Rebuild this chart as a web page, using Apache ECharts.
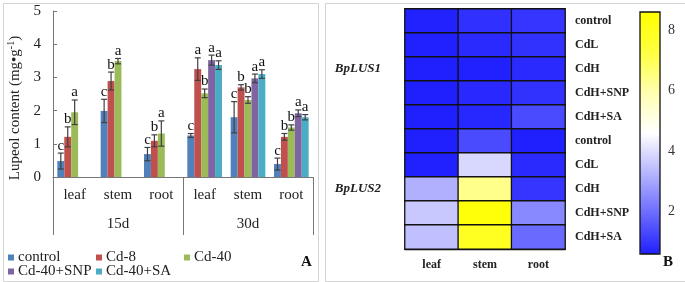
<!DOCTYPE html>
<html>
<head>
<meta charset="utf-8">
<script src="https://cdn.jsdelivr.net/npm/echarts@6/dist/echarts.min.js"></script>
<style>
  html, body { margin: 0; padding: 0; background: #fff; }
  #main { width: 685px; height: 282px; }
</style>
</head>
<body>
<div id="main"></div>
<script>
const serif = '"Liberation Serif", "Times New Roman", serif';

// panel A: lupeol content
const tissueLabels = ['leaf', 'stem', 'root', 'leaf', 'stem', 'root'];
const periods = ['15d', '30d'];
const groupNames = ['control', 'Cd-8', 'Cd-40', 'Cd-40+SNP', 'Cd-40+SA'];
const groupColors = ['#4F81BD', '#C0504D', '#9BBB59', '#8064A2', '#4BACC6'];

const control    = [0.48, 1.99, 0.69, 1.25, 1.80, 0.39];
const controlErr = [0.24, 0.35, 0.20, 0.06, 0.47, 0.18];
const controlSig = ['c', 'c', 'c', 'c', 'c', 'c'];

const cd8    = [1.21, 2.89, 1.09, 3.25, 2.70, 1.21];
const cd8Err = [0.30, 0.27, 0.18, 0.34, 0.08, 0.10];
const cd8Sig = ['b', 'b', 'b', 'a', 'b', 'b'];

const cd40    = [1.95, 3.49, 1.31, 2.52, 2.32, 1.49];
const cd40Err = [0.37, 0.08, 0.38, 0.13, 0.10, 0.08];
const cd40Sig = ['a', 'a', 'a', 'b', 'b', 'b'];

const snp    = [null, null, null, 3.52, 2.97, 1.92];
const snpErr = [0, 0, 0, 0.15, 0.13, 0.10];
const snpSig = ['', '', '', 'a', 'a', 'a'];

const sa    = [null, null, null, 3.37, 3.10, 1.80];
const saErr = [0, 0, 0, 0.13, 0.13, 0.08];
const saSig = ['', '', '', 'a', 'a', 'a'];

const yTicks = [0, 5, 1]; // min, max, step

// panel B: expression heatmap
const tissues = ['leaf', 'stem', 'root'];
const genes = ['BpLUS1', 'BpLUS2'];
const treatments = ['control', 'CdL', 'CdH', 'CdH+SNP', 'CdH+SA',
                    'control', 'CdL', 'CdH', 'CdH+SNP', 'CdH+SA'];
const leafExpr = [0.64, 0.62, 0.60, 0.60, 0.60, 0.60, 0.62, 3.18, 3.61, 3.47];
const stemExpr = [0.89, 0.78, 0.62, 0.75, 0.72, 1.35, 3.90, 6.40, 8.40, 7.90];
const rootExpr = [0.98, 0.92, 0.78, 0.92, 1.35, 0.60, 0.78, 0.98, 2.46, 1.93];
const scaleTicks = [2, 4, 6, 8];
const scaleRange = [0.6, 8.6];

const values = [control, cd8, cd40, snp, sa];
const errs = [controlErr, cd8Err, cd40Err, snpErr, saErr];
const sigs = [controlSig, cd8Sig, cd40Sig, snpSig, saSig];

const heatData = [];
[leafExpr, stemExpr, rootExpr].forEach((col, xi) => {
  col.forEach((v, yi) => heatData.push([xi, yi, v]));
});

function errorBars(k) {
  return function (params, api) {
    const i = api.value(0);
    const v = api.value(1);
    const e = api.value(2);
    const band = api.size([1, 0])[0];
    const bw = band * 0.8 / groupNames.length;
    const x = api.coord([i, 0])[0] - band * 0.4 + bw * (k + 0.5);
    const top = api.coord([i, v + e])[1];
    const bot = api.coord([i, v - e])[1];
    const st = { stroke: '#404040', lineWidth: 1.2 };
    return {
      type: 'group',
      children: [
        { type: 'line', shape: { x1: x, y1: top, x2: x, y2: bot }, style: st },
        { type: 'line', shape: { x1: x - 3, y1: top, x2: x + 3, y2: top }, style: st },
        { type: 'line', shape: { x1: x - 3, y1: bot, x2: x + 3, y2: bot }, style: st },
        {
          type: 'text', x: x, y: top,
          style: {
            text: sigs[k][i], fill: '#111', font: '15px ' + serif,
            align: 'center', verticalAlign: 'bottom'
          }
        }
      ]
    };
  };
}

const series = [];
groupNames.forEach((name, k) => {
  series.push({
    name: name, type: 'bar', xAxisIndex: 0, yAxisIndex: 0,
    data: values[k], barGap: '0%', barCategoryGap: '20%',
    itemStyle: { color: groupColors[k] }, silent: true
  });
});
groupNames.forEach((name, k) => {
  const d = [];
  values[k].forEach((v, i) => { if (v != null) d.push([i, v, errs[k][i]]); });
  series.push({
    type: 'custom', xAxisIndex: 0, yAxisIndex: 0, z: 5, silent: true,
    renderItem: errorBars(k), data: d
  });
});
series.push({
  type: 'heatmap', xAxisIndex: 2, yAxisIndex: 1, data: heatData,
  itemStyle: { borderColor: '#111', borderWidth: 1.3 },
  emphasis: { disabled: true }, silent: true
});

const legendPos = [[8, 250], [96, 250], [184, 250], [8, 264], [96, 264]];
const legends = groupNames.map((name, k) => ({
  data: [name], left: legendPos[k][0], top: legendPos[k][1], padding: 0,
  icon: 'rect', itemWidth: 6, itemHeight: 6, selectedMode: false,
  textStyle: { fontFamily: serif, fontSize: 15, color: '#222', padding: [0, 0, 0, -1] }
}));

const chart = echarts.init(document.getElementById('main'));
chart.setOption({
  backgroundColor: '#fff',
  animation: false,
  legend: legends,
  grid: [
    { left: 53, right: 372, top: 11, bottom: 105 },
    { left: 405, right: 120, top: 9, bottom: 33 },
    { left: 640, top: 12, width: 20, height: 242, show: true,
      borderColor: '#111', borderWidth: 1.3, backgroundColor: 'transparent', z: 10 }
  ],
  xAxis: [
    {
      type: 'category', gridIndex: 0, data: tissueLabels,
      axisLine: { lineStyle: { color: '#777', width: 1 } },
      axisTick: { show: false },
      axisLabel: { fontFamily: serif, fontSize: 15, color: '#222', margin: 11 }
    },
    {
      type: 'category', gridIndex: 0, data: periods, position: 'bottom',
      axisLine: { show: false },
      axisTick: { show: true, length: 58, interval: 0, lineStyle: { color: '#777', width: 1 } },
      axisLabel: { fontFamily: serif, fontSize: 15, color: '#222', margin: 40 }
    },
    {
      type: 'category', gridIndex: 1, data: tissues,
      axisLine: { lineStyle: { color: '#111', width: 1.3 } },
      axisTick: { alignWithLabel: true, length: 5, lineStyle: { color: '#111', width: 1.3 } },
      axisLabel: { fontFamily: serif, fontSize: 12, fontWeight: 'bold', color: '#222', margin: 10 }
    },
    { type: 'value', gridIndex: 2, min: 0, max: 1, show: false }
  ],
  yAxis: [
    {
      type: 'value', gridIndex: 0, min: yTicks[0], max: yTicks[1], interval: yTicks[2],
      axisLine: { show: true, lineStyle: { color: '#777', width: 1 } },
      axisTick: { show: true, inside: true, length: 4, lineStyle: { color: '#777' } },
      splitLine: { show: false },
      axisLabel: { fontFamily: serif, fontSize: 15, color: '#222', margin: 12 }
    },
    {
      type: 'category', gridIndex: 1, data: treatments, inverse: true, position: 'right',
      axisLine: { show: false }, axisTick: { show: false },
      axisLabel: { fontFamily: serif, fontSize: 12, fontWeight: 'bold', color: '#222',
                   margin: 10, interval: 0 }
    },
    {
      type: 'category', gridIndex: 1, data: genes, inverse: true, position: 'left',
      axisLine: { show: false }, axisTick: { show: false },
      axisLabel: { fontFamily: serif, fontSize: 13, fontWeight: 'bold', fontStyle: 'italic',
                   color: '#222', margin: 24 }
    },
    {
      type: 'value', gridIndex: 2, min: scaleRange[0], max: scaleRange[1], position: 'left',
      axisLine: { show: false }, splitLine: { show: false },
      axisTick: { show: true, inside: true, length: 4, customValues: scaleTicks,
                  lineStyle: { color: '#111', width: 1.3 } },
      axisLabel: { show: false }
    },
    {
      type: 'value', gridIndex: 2, min: scaleRange[0], max: scaleRange[1], position: 'right',
      axisLine: { show: false }, splitLine: { show: false },
      axisTick: { show: true, inside: true, length: 4, customValues: scaleTicks,
                  lineStyle: { color: '#111', width: 1.3 } },
      axisLabel: { fontFamily: serif, fontSize: 14, color: '#333', margin: 8,
                   customValues: scaleTicks }
    }
  ],
  visualMap: {
    type: 'continuous', seriesIndex: 10, dimension: 2,
    min: scaleRange[0], max: scaleRange[1], calculable: false,
    orient: 'vertical', left: 640, top: 12, itemWidth: 20, itemHeight: 242,
    padding: 0, text: null, hoverLink: false,
    inRange: { color: ['#2020ff', '#6a6aff', '#b5b5ff', '#ffffff', '#ffffb0', '#ffff40', '#ffff00'] }
  },
  graphic: [
    { type: 'rect', left: 1, top: 1, shape: { width: 315, height: 278 },
      style: { fill: 'none', stroke: '#d4d4d4', lineWidth: 1 }, z: -1 },
    { type: 'rect', left: 323, top: 1, shape: { width: 360, height: 278 },
      style: { fill: 'none', stroke: '#d4d4d4', lineWidth: 1 }, z: -1 },
    {
      type: 'text', x: 15, y: 108, rotation: Math.PI / 2,
      style: {
        text: 'Lupeol content (mg•g{sup|-1})', font: '15px ' + serif, fill: '#222',
        align: 'center', verticalAlign: 'middle',
        rich: { sup: { fontSize: 10, fontFamily: serif, fill: '#222', padding: [0, 0, 8, 0] } }
      }
    },
    { type: 'text', left: 301, top: 255,
      style: { text: 'A', font: 'bold 15px ' + serif, fill: '#111' } },
    { type: 'text', left: 663, top: 255,
      style: { text: 'B', font: 'bold 15px ' + serif, fill: '#111' } }
  ],
  series: series
});
</script>
</body>
</html>
